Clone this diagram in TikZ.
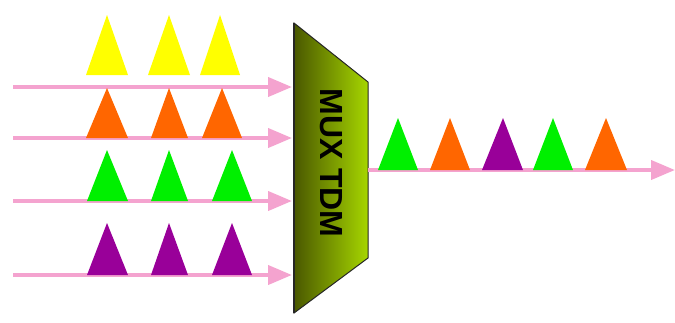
\documentclass[tikz,border=0pt]{standalone}
\usepackage{fontspec}
\setmainfont{Liberation Sans}
\usetikzlibrary{arrows.meta}
\definecolor{pinkline}{HTML}{F4A3CF}
\definecolor{yel}{HTML}{FFFF00}
\definecolor{ora}{HTML}{FF6600}
\definecolor{gre}{HTML}{00F000}
\definecolor{pur}{HTML}{990099}
\definecolor{muxdark}{HTML}{4A5800}
\definecolor{muxlight}{HTML}{A6D600}
\tikzset{
  sig/.style={draw=pinkline, line width=4pt, -{Triangle[length=24pt,width=19pt]}},
  pulse/.style={fill=#1, draw=none},
}
\begin{document}
\begin{tikzpicture}[x=1pt,y=-1pt]
\useasboundingbox (0,0) rectangle (675,322);
% mux
\coordinate (m1) at (294,23);
\coordinate (m2) at (368,82);
\coordinate (m3) at (368,258);
\coordinate (m4) at (294,313);
\shade[left color=muxdark, right color=muxlight] (m1) -- (m2) -- (m3) -- (m4) -- cycle;
\draw[black!85, line width=1pt] (m1) -- (m2) -- (m3) -- (m4) -- cycle;
\draw[black!85, line width=2pt] (m1) -- (m4);
\node[rotate=-90, font=\bfseries\fontsize{32}{32}\selectfont, inner sep=0pt] (mux) at (331,163) {MUX TDM};
% input lines
\foreach \n/\y in {a/87,b/138,c/201,d/275}{
  \coordinate (s\n) at (13,\y);
  \coordinate (e\n) at (292,\y);
}
\draw[sig] (sa) -- (ea);
\draw[sig] (sb) -- (eb);
\draw[sig] (sc) -- (ec);
\draw[sig] (sd) -- (ed);
% output line
\coordinate (os) at (368,170);
\coordinate (oe) at (675,170);
\draw[sig] (os) -- (oe);
% pulses
\foreach \l/\r/\a in {86/128/107,148/190/169,200/240/220}
  \path[pulse=yel] (\l,75) -- (\a,15) -- (\r,75) -- cycle;
\foreach \l/\r/\a in {86/128/107,151/188/169,202/242/222}
  \path[pulse=ora] (\l,138) -- (\a,88) -- (\r,138) -- cycle;
\foreach \l/\r/\a in {87/128/107,151/188/169,212/252/232}
  \path[pulse=gre] (\l,201) -- (\a,150) -- (\r,201) -- cycle;
\foreach \l/\r/\a in {87/128/107,151/188/169,212/252/232}
  \path[pulse=pur] (\l,275) -- (\a,223) -- (\r,275) -- cycle;
\foreach \l/\r/\a/\c in {378/418/398/gre,430/470/450/ora,482/523/503/pur,533/573/553/gre,585/627/606/ora}
  \path[pulse=\c] (\l,170) -- (\a,118) -- (\r,170) -- cycle;
\end{tikzpicture}
\end{document}
